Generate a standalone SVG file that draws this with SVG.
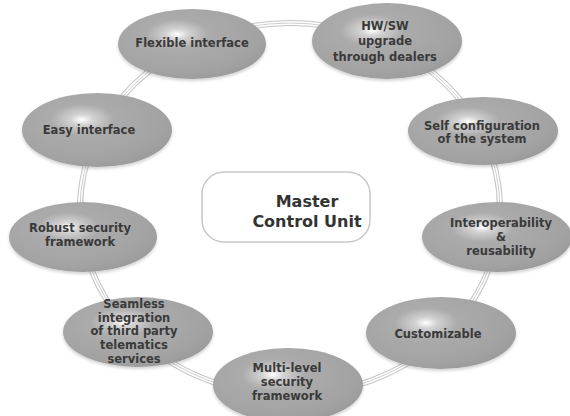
<svg xmlns="http://www.w3.org/2000/svg" width="570" height="416" viewBox="0 0 570 416">
  <defs>
    <radialGradient id="bubble" cx="0.4" cy="0.36" r="0.75" fx="0.4" fy="0.36">
      <stop offset="0" stop-color="#ffffff"/>
      <stop offset="0.1" stop-color="#d2d2d2"/>
      <stop offset="0.28" stop-color="#ababab"/>
      <stop offset="0.75" stop-color="#a2a2a2"/>
      <stop offset="1" stop-color="#969696"/>
    </radialGradient>
    <filter id="soft" x="-10%" y="-10%" width="120%" height="130%">
      <feGaussianBlur in="SourceAlpha" stdDeviation="1.5"/>
      <feOffset dy="1.5" result="b"/>
      <feFlood flood-color="#000" flood-opacity="0.18"/>
      <feComposite in2="b" operator="in"/>
      <feMerge><feMergeNode/><feMergeNode in="SourceGraphic"/></feMerge>
    </filter>
  </defs>
  <style>
    .node ellipse { fill: url(#bubble); filter: url(#soft); }
    .label { font-family: "DejaVu Sans", Verdana, sans-serif; font-weight: bold; font-size: 11.5px; fill: #3a3a3a; text-anchor: middle; }
    .hub { font-family: "DejaVu Sans", Verdana, sans-serif; font-weight: bold; font-size: 16px; fill: #333333; text-anchor: middle; }
    .ring-outer { fill: none; stroke: #c4c4c4; stroke-width: 6; }
    .ring-gap { fill: none; stroke: #ffffff; stroke-width: 4; }
    .ring-mid { fill: none; stroke: #cfcfcf; stroke-width: 1; }
  </style>
  <rect width="570" height="416" fill="#ffffff"/>

  <!-- ring linking the feature bubbles -->
  <g id="connectors">
    <ellipse class="ring-outer" cx="290" cy="209" rx="210" ry="186"/>
    <ellipse class="ring-gap" cx="290" cy="209" rx="210" ry="186"/>
    <ellipse class="ring-mid" cx="290" cy="209" rx="210" ry="186"/>
  </g>

  <!-- hub -->
  <g id="master-control-unit">
    <rect x="202" y="172" width="168" height="70" rx="22" fill="#ffffff" stroke="#c8c8c8" stroke-width="1.5"/>
    <text class="hub" x="307" y="207">Master</text>
    <text class="hub" x="307" y="227">Control Unit</text>
  </g>

  <g id="flexible-interface" class="node">
    <ellipse cx="192" cy="44" rx="74" ry="35"/>
    <text class="label" x="192" y="47">Flexible interface</text>
  </g>

  <g id="hw-sw-upgrade" class="node">
    <ellipse cx="387" cy="41" rx="75" ry="38"/>
    <text class="label" x="385" y="30">HW/SW</text>
    <text class="label" x="385" y="45">upgrade</text>
    <text class="label" x="385" y="61">through dealers</text>
  </g>

  <g id="self-configuration" class="node">
    <ellipse cx="483" cy="131" rx="75" ry="34"/>
    <text class="label" x="482" y="130">Self configuration</text>
    <text class="label" x="482" y="143">of the system</text>
  </g>

  <g id="interoperability" class="node">
    <ellipse cx="497" cy="237" rx="75" ry="35"/>
    <text class="label" x="501" y="227">Interoperability</text>
    <text class="label" x="501" y="241">&amp;</text>
    <text class="label" x="501" y="255">reusability</text>
  </g>

  <g id="customizable" class="node">
    <ellipse cx="441" cy="333" rx="75" ry="36"/>
    <text class="label" x="438" y="338">Customizable</text>
  </g>

  <g id="multi-level-security" class="node">
    <ellipse cx="288" cy="385" rx="75" ry="37"/>
    <text class="label" x="287" y="372">Multi-level</text>
    <text class="label" x="287" y="386">security</text>
    <text class="label" x="287" y="400">framework</text>
  </g>

  <g id="seamless-integration" class="node">
    <ellipse cx="138" cy="332" rx="75" ry="35"/>
    <text class="label" x="134" y="308">Seamless</text>
    <text class="label" x="134" y="322">integration</text>
    <text class="label" x="134" y="335">of third party</text>
    <text class="label" x="134" y="349">telematics</text>
    <text class="label" x="134" y="363">services</text>
  </g>

  <g id="robust-security" class="node">
    <ellipse cx="83" cy="237" rx="74" ry="35"/>
    <text class="label" x="80" y="232">Robust security</text>
    <text class="label" x="80" y="246">framework</text>
  </g>

  <g id="easy-interface" class="node">
    <ellipse cx="97" cy="130" rx="75" ry="37"/>
    <text class="label" x="89" y="134">Easy interface</text>
  </g>
</svg>
